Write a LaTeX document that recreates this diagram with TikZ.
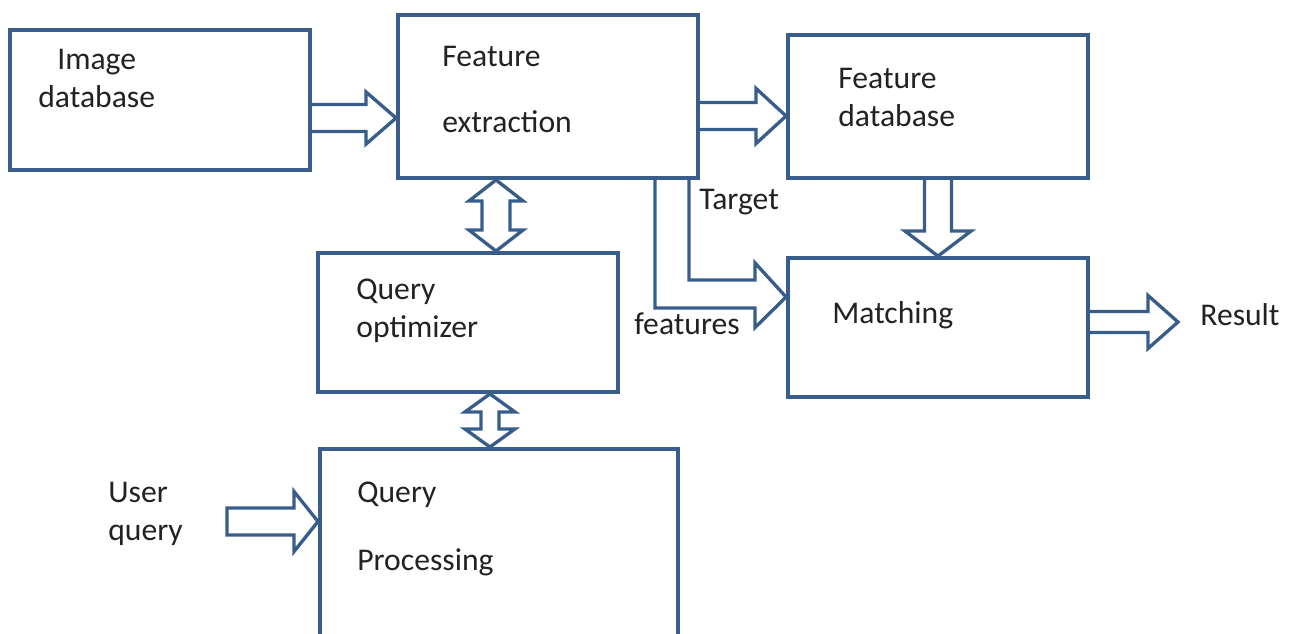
\documentclass[tikz,border=0pt]{standalone}
\usepackage{fontspec}
\setmainfont{Carlito}
\usepackage{tikz}
\usetikzlibrary{positioning,calc}
\definecolor{boxblue}{HTML}{385D8A}
\definecolor{ink}{HTML}{222222}

% hollow block arrows: from, to, shaft half width, head half width, head length
\newcommand{\rarrow}[6][]{%
  \draw[blk] let \p1=(#2), \p2=(#3) in (\x1,\y1+#4) -- (\x2-#6,\y1+#4) -- (\x2-#6,\y1+#5) -- (\x2,\y1)
    -- (\x2-#6,\y1-#5) -- (\x2-#6,\y1-#4) -- (\x1,\y1-#4) #1;}
\newcommand{\darrow}[5]{%
  \draw[blk] let \p1=(#1), \p2=(#2) in (\x1-#3,\y1) -- (\x1-#3,\y2+#5) -- (\x1-#4,\y2+#5) -- (\x1,\y2)
    -- (\x1+#4,\y2+#5) -- (\x1+#3,\y2+#5) -- (\x1+#3,\y1);}
\newcommand{\udarrow}[5]{%
  \draw[blk] let \p1=(#1), \p2=(#2) in (\x2-#3,\y1-#5) -- (\x2-#4,\y1-#5) -- (\x2,\y1) -- (\x2+#4,\y1-#5)
    -- (\x2+#3,\y1-#5) -- (\x2+#3,\y2+#5) -- (\x2+#4,\y2+#5) -- (\x2,\y2) -- (\x2-#4,\y2+#5)
    -- (\x2-#3,\y2+#5) -- cycle;}

\begin{document}
\begin{tikzpicture}[
  box/.style={draw=boxblue, line width=2.2pt, minimum width=6cm},
  txt/.style={font=\fontsize{18}{22}\selectfont, text=ink, inner sep=0pt, anchor=base west},
  blk/.style={draw=boxblue, line width=1.9pt}]
\clip (0,0) rectangle (25.86,-12.66);
\node[box, minimum height=2.8cm] (imgdb) at (3.2,-2.0) {};
\node[box, minimum height=3.26cm] (featex) at (10.96,-1.93) {};
\node[box, minimum height=2.86cm] (featdb) at (18.76,-2.13) {};
\node[box, minimum height=2.78cm] (qopt) at (9.36,-6.45) {};
\node[box, minimum height=2.78cm] (match) at (18.76,-6.55) {};
\node[box, minimum width=7.16cm, minimum height=5cm, anchor=north west] (qproc) at (6.36,-8.94) {};
% texts
\node[txt] (imgt1) at (1.14,-1.38) {Image};
\node[txt] (imgt2) at (0.76,-2.14) {database};
\node[txt] (fext1) at (8.84,-1.32) {Feature};
\node[txt] (fext2) at (8.84,-2.64) {extraction};
\node[txt] (fdbt1) at (16.76,-1.76) {Feature};
\node[txt] (fdbt2) at (16.76,-2.52) {database};
\node[txt] (qopt1) at (7.12,-5.98) {Query};
\node[txt] (qopt2) at (7.12,-6.74) {optimizer};
\node[txt] (matt) at (16.64,-6.46) {Matching};
\node[txt] (qprt1) at (7.14,-10.04) {Query};
\node[txt] (qprt2) at (7.14,-11.40) {Processing};
\node[txt] (usr1) at (2.16,-10.04) {User};
\node[txt] (usr2) at (2.16,-10.80) {query};
\node[txt] (result) at (24.0,-6.50) {Result};
\node[txt] (tgt) at (13.98,-4.18) {Target};
\node[txt] (feats) at (12.68,-6.68) {features};
\coordinate (uq) at (4.54,-10.43);
% connectors
\rarrow{[yshift=-0.36cm]imgdb.east}{featex.west}{0.27cm}{0.52cm}{0.6cm}
\rarrow{[yshift=-0.39cm]featex.east}{featdb.west}{0.27cm}{0.55cm}{0.6cm}
\darrow{featdb.south}{match.north}{0.27cm}{0.66cm}{0.5cm}
\rarrow{[yshift=0.11cm]match.east}{[xshift=-0.44cm]result.west}{0.21cm}{0.53cm}{0.6cm}
\rarrow[-- cycle]{uq}{qproc.west}{0.27cm}{0.6cm}{0.48cm}
\udarrow{featex.south}{[xshift=0.56cm]qopt.north}{0.28cm}{0.54cm}{0.42cm}
\udarrow{qopt.south}{[xshift=-0.18cm]qproc.north}{0.18cm}{0.5cm}{0.36cm}
\draw[blk] let \p1=(featex.south east), \p2=(match.west) in
  (\x1-0.9cm,\y1) |- (\x2-0.62cm,\y2+0.39cm) -- (\x2-0.62cm,\y2) -- (\x2,\y2+0.61cm)
  -- (\x2-0.62cm,\y2+1.29cm) -- (\x2-0.62cm,\y2+0.95cm) -| (\x1-0.22cm,\y1);
\end{tikzpicture}
\end{document}
